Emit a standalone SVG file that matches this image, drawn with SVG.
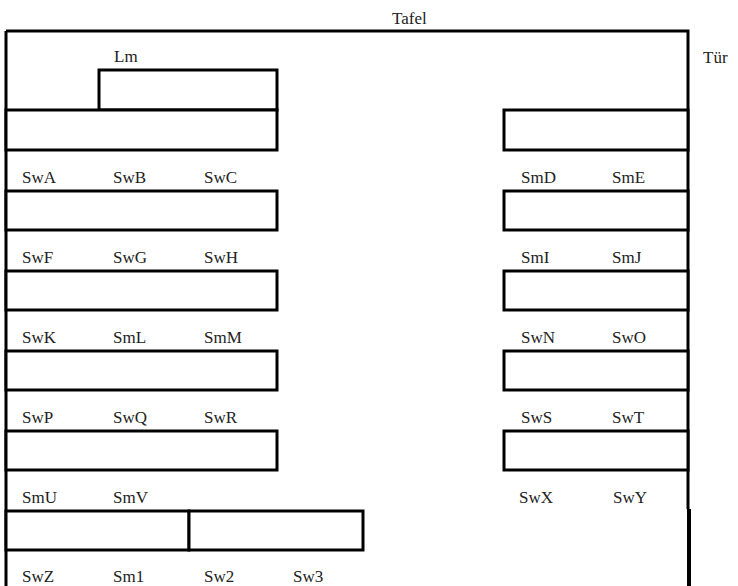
<svg xmlns="http://www.w3.org/2000/svg" width="738" height="586" viewBox="0 0 738 586">
<style>
.w{fill:none;stroke:#000;stroke-width:3}
.d{fill:#fff;stroke:#000;stroke-width:3}
</style>
<rect width="738" height="586" fill="#fff"/>
<g font-family="Liberation Serif, Times New Roman, DejaVu Serif, serif" font-size="17" fill="#222">
<g id="room">
<path class="w" d="M6 31H688V509M6 31V586"/>
<path d="M689 509V586" stroke="#000" stroke-width="4"/>
<text x="392" y="24">Tafel</text>
<text x="703" y="63">Tür</text>
</g>
<g id="lehrer">
<rect class="d" x="99" y="70" width="178" height="40"/>
<text x="114" y="62">Lm</text>
</g>
<g id="left-desks">
<rect class="d" x="6" y="110" width="271" height="40"/>
<rect class="d" x="6" y="191" width="271" height="39"/>
<rect class="d" x="6" y="271" width="271" height="39"/>
<rect class="d" x="6" y="351" width="271" height="39"/>
<rect class="d" x="6" y="431" width="271" height="39"/>
</g>
<g id="right-desks">
<rect class="d" x="504" y="110" width="184" height="40"/>
<rect class="d" x="504" y="191" width="184" height="39"/>
<rect class="d" x="504" y="271" width="184" height="39"/>
<rect class="d" x="504" y="351" width="184" height="39"/>
<rect class="d" x="504" y="431" width="184" height="39"/>
</g>
<g id="back-desks">
<rect class="d" x="6" y="511" width="183" height="39"/>
<rect class="d" x="189" y="511" width="174" height="39"/>
</g>
<g id="labels">
<text x="22" y="183">SwA</text><text x="113" y="183">SwB</text><text x="204" y="183">SwC</text>
<text x="521" y="183">SmD</text><text x="612" y="183">SmE</text>
<text x="22" y="263">SwF</text><text x="113" y="263">SwG</text><text x="204" y="263">SwH</text>
<text x="521" y="263">SmI</text><text x="612" y="263">SmJ</text>
<text x="22" y="343">SwK</text><text x="113" y="343">SmL</text><text x="204" y="343">SmM</text>
<text x="521" y="343">SwN</text><text x="612" y="343">SwO</text>
<text x="22" y="423">SwP</text><text x="113" y="423">SwQ</text><text x="204" y="423">SwR</text>
<text x="521" y="423">SwS</text><text x="612" y="423">SwT</text>
<text x="22" y="503">SmU</text><text x="113" y="503">SmV</text>
<text x="519" y="503">SwX</text><text x="613" y="503">SwY</text>
<text x="22" y="582">SwZ</text><text x="113" y="582">Sm1</text><text x="204" y="582">Sw2</text><text x="293" y="582">Sw3</text>
</g>
</g>
</svg>
